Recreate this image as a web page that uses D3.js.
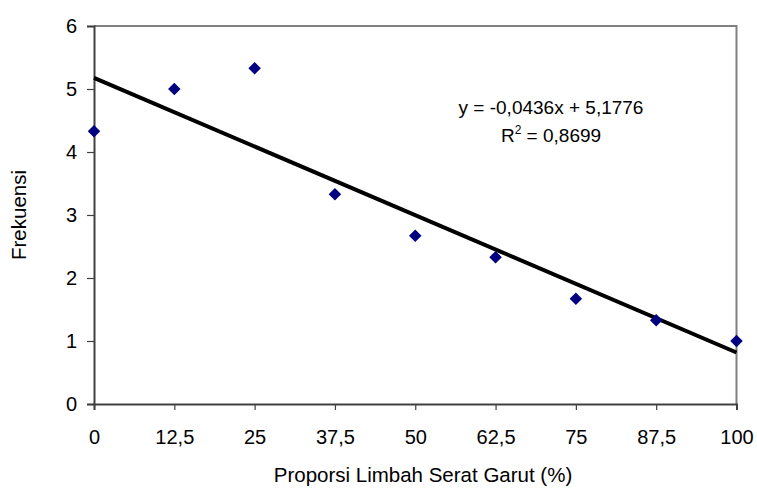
<!DOCTYPE html>
<html>
<head>
<meta charset="utf-8">
<script src="https://cdn.jsdelivr.net/npm/d3@7"></script>
<style>
  body { margin: 0; background: #fff; }
  text { font-family: "Liberation Sans", Arial, sans-serif; fill: #000; }
</style>
</head>
<body>
<div id="chart"></div>
<script>
const proporsi = [0, 12.5, 25, 37.5, 50, 62.5, 75, 87.5, 100];
const frekuensi = [4.33, 5, 5.33, 3.33, 2.67, 2.33, 1.67, 1.33, 1];
const xTicks = [0, 12.5, 25, 37.5, 50, 62.5, 75, 87.5, 100];
const yTicks = [0, 1, 2, 3, 4, 5, 6];
const slope = -0.0436, intercept = 5.1776;

const width = 757, height = 488;
const margin = { top: 26, right: 20, bottom: 84, left: 94 };
const fmt = d => String(d).replace('.', ',');

const svg = d3.select('#chart').append('svg').attr('width', width).attr('height', height);

const x = d3.scaleLinear().domain([0, 100]).range([margin.left, width - margin.right - 0.5]);
const y = d3.scaleLinear().domain([0, 6]).range([height - margin.bottom, margin.top]);

// frame top/right
svg.append('path')
  .attr('d', `M${x(0)},${y(6)}H${x(100)}V${y(0)}`)
  .attr('fill', 'none').attr('stroke', '#808080').attr('stroke-width', 2);

const xAxis = svg.append('g').attr('transform', `translate(0,${y(0)})`)
  .call(d3.axisBottom(x).tickValues(xTicks).tickFormat(fmt).tickSizeOuter(0).tickSize(6).tickPadding(20));
const yAxis = svg.append('g').attr('transform', `translate(${x(0)},0)`)
  .call(d3.axisLeft(y).tickValues(yTicks).tickFormat(d3.format('d')).tickSizeOuter(0).tickSize(7).tickPadding(10));

[xAxis, yAxis].forEach(g => {
  g.select('.domain').attr('stroke', '#404040').attr('stroke-width', 2);
  g.selectAll('.tick line').attr('stroke', '#404040').attr('stroke-width', 1.2);
  g.selectAll('.tick text').attr('font-size', 20).attr('font-family', '"Liberation Sans", Arial, sans-serif').attr('fill', '#000');
});

// trend line
svg.append('line')
  .attr('x1', x(0)).attr('y1', y(intercept))
  .attr('x2', x(100)).attr('y2', y(intercept + slope * 100))
  .attr('stroke', '#000').attr('stroke-width', 4);

// points
svg.selectAll('.pt').data(proporsi).enter().append('path')
  .attr('class', 'pt')
  .attr('d', d3.symbol().type(d3.symbolDiamond2).size(100))
  .attr('transform', (d, i) => `translate(${x(d)},${y(frekuensi[i])})`)
  .attr('fill', '#000080');

// equation
const eq = svg.append('g').attr('font-size', 19).attr('text-anchor', 'middle');
eq.append('text').attr('x', 551).attr('y', 114).text('y = -0,0436x + 5,1776');
const r2 = eq.append('text').attr('x', 551).attr('y', 142);
r2.append('tspan').text('R');
r2.append('tspan').attr('dy', -8).attr('font-size', 12).text('2');
r2.append('tspan').attr('dy', 8).text(' = 0,8699');

// axis titles
svg.append('text').attr('x', 423).attr('y', 482).attr('text-anchor', 'middle')
  .attr('font-size', 20.5).text('Proporsi Limbah Serat Garut (%)');
svg.append('text').attr('transform', `translate(26,${(y(0) + y(6)) / 2}) rotate(-90)`)
  .attr('text-anchor', 'middle').attr('font-size', 20.5).text('Frekuensi');
</script>
</body>
</html>
